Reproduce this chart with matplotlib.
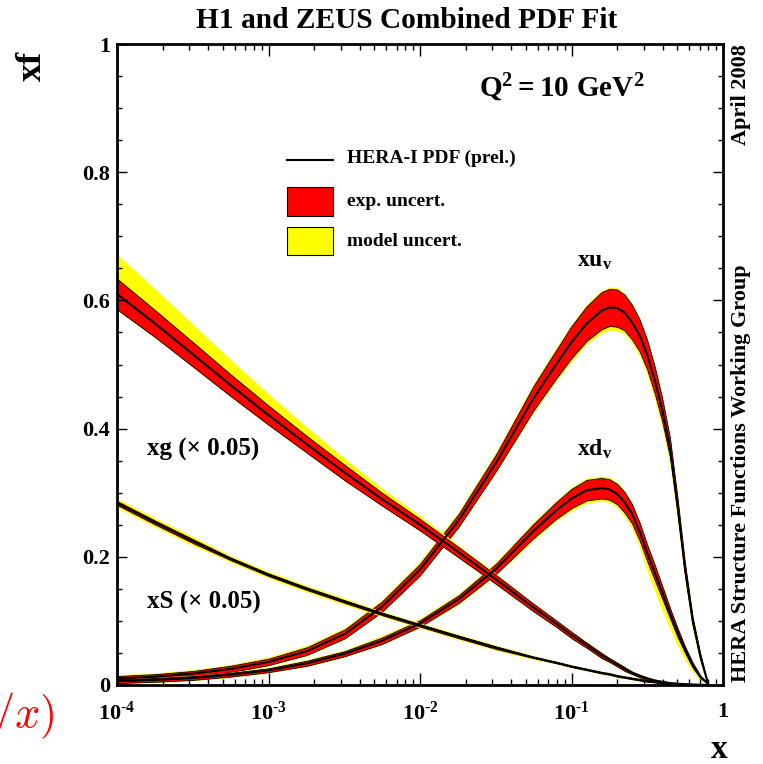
import matplotlib

matplotlib.use("Agg")
import matplotlib.pyplot as plt
import numpy as np
from matplotlib.patches import Rectangle
from matplotlib.ticker import LogLocator, MultipleLocator, NullFormatter

W, H = 763, 764

# x grid shared by all curves
X = [1.0e-4, 1.8e-4, 3.2e-4, 5.6e-4, 1.0e-3, 1.8e-3, 3.2e-3, 5.6e-3, 0.010, 0.018,
     0.032, 0.056, 0.079, 0.100, 0.126, 0.158, 0.178, 0.200, 0.224, 0.251,
     0.282, 0.316, 0.355, 0.398, 0.447, 0.501, 0.562, 0.631, 0.708, 0.794]

# gluon (x 0.05)
XG_C = [0.610, 0.563, 0.515, 0.468, 0.421, 0.375, 0.331, 0.290, 0.250, 0.207,
        0.164, 0.121, 0.096, 0.078, 0.062, 0.046, 0.039, 0.032, 0.025, 0.019,
        0.014, 0.010, 0.007, 0.005, 0.003, 0.002, 0.0012, 0.0006, 0.0002, 0.0]
XG_EXP = [0.024, 0.021, 0.019, 0.017, 0.015, 0.013, 0.012, 0.010, 0.009, 0.008,
          0.007, 0.006, 0.005, 0.005, 0.004, 0.004, 0.003, 0.003, 0.003, 0.002,
          0.002, 0.002, 0.001, 0.001, 0.001, 0.001, 0.0005, 0.0005, 0.0, 0.0]
XG_MOD_UP = [0.038, 0.033, 0.028, 0.023, 0.018, 0.014, 0.010, 0.007, 0.005, 0.003,
             0.002, 0.001, 0.001, 0.001, 0.001, 0.001, 0.001, 0.001, 0.001, 0.001,
             0.001, 0.001, 0.001, 0.0005, 0.0005, 0.0005, 0.0, 0.0, 0.0, 0.0]
XG_MOD_DN = [0.001, 0.001, 0.001, 0.001, 0.001, 0.001, 0.001, 0.001, 0.001, 0.001,
             0.001, 0.001, 0.001, 0.001, 0.001, 0.001, 0.001, 0.001, 0.001, 0.001,
             0.001, 0.001, 0.001, 0.0005, 0.0005, 0.0005, 0.0, 0.0, 0.0, 0.0]

# sea (x 0.05)
XS_C = [0.284, 0.253, 0.224, 0.197, 0.172, 0.150, 0.130, 0.111, 0.093, 0.075,
        0.058, 0.043, 0.035, 0.029, 0.024, 0.019, 0.017, 0.014, 0.012, 0.010,
        0.008, 0.006, 0.0045, 0.003, 0.002, 0.0013, 0.0007, 0.0003, 0.0001, 0.0]
XS_EXP = [0.003, 0.003, 0.003, 0.002, 0.002, 0.002, 0.002, 0.002, 0.002, 0.002,
          0.002, 0.001, 0.001, 0.001, 0.001, 0.001, 0.001, 0.001, 0.001, 0.001,
          0.001, 0.001, 0.0005, 0.0005, 0.0005, 0.0005, 0.0, 0.0, 0.0, 0.0]
XS_MOD = [0.004, 0.004, 0.004, 0.003, 0.003, 0.003, 0.003, 0.002, 0.002, 0.002,
          0.002, 0.002, 0.001, 0.001, 0.001, 0.001, 0.001, 0.001, 0.001, 0.001,
          0.001, 0.001, 0.0005, 0.0005, 0.0005, 0.0005, 0.0, 0.0, 0.0, 0.0]

# u valence
XUV_C = [0.010, 0.013, 0.018, 0.025, 0.036, 0.053, 0.080, 0.122, 0.180, 0.257,
         0.348, 0.447, 0.500, 0.535, 0.564, 0.584, 0.589, 0.588, 0.581, 0.566,
         0.545, 0.515, 0.475, 0.428, 0.370, 0.280, 0.180, 0.100, 0.045, 0.003]
XUV_EXP = [0.004, 0.004, 0.004, 0.005, 0.005, 0.006, 0.007, 0.008, 0.009, 0.010,
           0.013, 0.019, 0.022, 0.025, 0.027, 0.029, 0.029, 0.029, 0.028, 0.027,
           0.025, 0.023, 0.021, 0.018, 0.015, 0.012, 0.009, 0.006, 0.004, 0.0]
XUV_MOD_UP = [0.002, 0.002, 0.002, 0.002, 0.003, 0.003, 0.003, 0.003, 0.004, 0.004,
              0.004, 0.004, 0.004, 0.003, 0.003, 0.003, 0.003, 0.003, 0.003, 0.002,
              0.002, 0.002, 0.002, 0.002, 0.001, 0.001, 0.001, 0.001, 0.0, 0.0]
XUV_MOD_DN = [0.001, 0.001, 0.001, 0.001, 0.001, 0.001, 0.001, 0.001, 0.001, 0.002,
              0.002, 0.003, 0.004, 0.005, 0.005, 0.006, 0.006, 0.006, 0.006, 0.006,
              0.007, 0.008, 0.009, 0.010, 0.012, 0.012, 0.010, 0.008, 0.005, 0.0]

# d valence
XDV_C = [0.006, 0.008, 0.011, 0.016, 0.023, 0.034, 0.049, 0.069, 0.096, 0.134,
         0.182, 0.240, 0.272, 0.291, 0.304, 0.307, 0.305, 0.298, 0.285, 0.267,
         0.239, 0.206, 0.175, 0.144, 0.112, 0.082, 0.055, 0.031, 0.013, 0.002]
XDV_EXP = [0.003, 0.003, 0.003, 0.003, 0.003, 0.004, 0.004, 0.005, 0.005, 0.006,
           0.008, 0.011, 0.013, 0.015, 0.016, 0.016, 0.016, 0.016, 0.016, 0.015,
           0.014, 0.013, 0.012, 0.010, 0.008, 0.007, 0.005, 0.004, 0.002, 0.0]
XDV_MOD_UP = [0.001, 0.001, 0.001, 0.001, 0.002, 0.002, 0.002, 0.003, 0.003, 0.003,
              0.003, 0.003, 0.003, 0.003, 0.003, 0.003, 0.003, 0.002, 0.002, 0.002,
              0.002, 0.002, 0.001, 0.001, 0.001, 0.001, 0.001, 0.0, 0.0, 0.0]
XDV_MOD_DN = [0.001, 0.001, 0.001, 0.001, 0.001, 0.001, 0.001, 0.001, 0.001, 0.002,
              0.002, 0.003, 0.003, 0.004, 0.004, 0.004, 0.004, 0.005, 0.006, 0.008,
              0.011, 0.015, 0.017, 0.018, 0.016, 0.014, 0.010, 0.007, 0.004, 0.0]

X_TICKS = [1e-4, 1e-3, 1e-2, 1e-1, 1.0]
X_TICK_LABELS = [r"$10^{\text{-}4}$", r"$10^{\text{-}3}$", r"$10^{\text{-}2}$",
                 r"$10^{\text{-}1}$", "1"]
Y_TICKS = [0.0, 0.2, 0.4, 0.6, 0.8, 1.0]
Y_TICK_LABELS = ["0", "0.2", "0.4", "0.6", "0.8", "1"]
LEGEND_LABELS = ["HERA-I PDF (prel.)", "exp. uncert.", "model uncert."]

RED = "#ff0000"
YELLOW = "#ffff00"


def fig_xy(px, py):
    return px / W, 1 - py / H


def ax_xy(px, py):
    # pixel position -> axes fraction (axes spans 117..723 x 44..685)
    return (px - 117) / 606, (685 - py) / 641


def draw_pdf(ax, center, exp, mod_up, mod_dn):
    x = np.array(X)
    c = np.array(center)
    e = np.array(exp)
    lo_red = np.maximum(c - e, 0)
    hi_red = c + e
    lo_y = np.maximum(lo_red - np.array(mod_dn), 0)
    hi_y = hi_red + np.array(mod_up)
    ax.fill_between(x, lo_y, hi_y, color=YELLOW, lw=0)
    ax.fill_between(x, lo_red, hi_red, facecolor=RED, edgecolor="black", lw=0.6)
    ax.plot(x, c, color="black", lw=1.5)


def draw_legend(ax):
    x0, y0 = ax_xy(287, 160)
    x1, _ = ax_xy(333, 160)
    ax.plot([x0, x1], [y0, y0], color="black", lw=1.5, transform=ax.transAxes)
    for top, bottom, color in [(187, 216, RED), (227, 255, YELLOW)]:
        bx, by = ax_xy(287, bottom)
        _, ty = ax_xy(287, top)
        ax.add_patch(Rectangle((bx, by), x1 - bx, ty - by, transform=ax.transAxes,
                               facecolor=color, edgecolor="black", lw=0.8))
    for label, py in zip(LEGEND_LABELS, [158, 201, 241]):
        tx, ty = ax_xy(347, py)
        ax.text(tx, ty, label, transform=ax.transAxes, fontsize=14,
                ha="left", va="center")


def main():
    plt.rcParams["font.family"] = ["Liberation Serif", "DejaVu Serif"]
    plt.rcParams["font.weight"] = "bold"
    plt.rcParams["mathtext.fontset"] = "custom"
    plt.rcParams["mathtext.rm"] = "Liberation Serif:bold"
    plt.rcParams["mathtext.bf"] = "Liberation Serif:bold"
    plt.rcParams["mathtext.it"] = "Liberation Serif:bold"
    plt.rcParams["mathtext.default"] = "rm"

    fig = plt.figure(figsize=(W / 100, H / 100), dpi=100)
    ax = fig.add_axes([117 / W, 1 - 685 / H, 606 / W, 641 / H])

    draw_pdf(ax, XUV_C, XUV_EXP, XUV_MOD_UP, XUV_MOD_DN)
    draw_pdf(ax, XDV_C, XDV_EXP, XDV_MOD_UP, XDV_MOD_DN)
    draw_pdf(ax, XG_C, XG_EXP, XG_MOD_UP, XG_MOD_DN)
    draw_pdf(ax, XS_C, XS_EXP, XS_MOD, XS_MOD)

    ax.set_xscale("log")
    ax.set_xlim(1e-4, 1)
    ax.set_ylim(0, 1)
    ax.set_xticks(X_TICKS, labels=X_TICK_LABELS)
    ax.xaxis.set_minor_locator(LogLocator(base=10, subs=range(2, 10)))
    ax.xaxis.set_minor_formatter(NullFormatter())
    ax.set_yticks(Y_TICKS, labels=Y_TICK_LABELS)
    ax.yaxis.set_minor_locator(MultipleLocator(0.05))
    for side in ax.spines.values():
        side.set_linewidth(2.0)
    ax.tick_params(which="both", direction="in", top=True, right=True, width=1.0)
    ax.tick_params(axis="x", which="major", length=8.5, pad=12, labelsize=16)
    ax.tick_params(axis="x", which="minor", length=4.0)
    ax.tick_params(axis="y", which="major", length=7.0, pad=5, labelsize=16)
    ax.tick_params(axis="y", which="minor", length=3.5)

    ax.text(0.1087, 0.66, r"$xu_v$", fontsize=17, va="center", ha="left")
    ax.text(0.1087, 0.367, r"$xd_v$", fontsize=17, va="center", ha="left")
    ax.text(1.58e-4, 0.367, "xg (\u00d7 0.05)", fontsize=18, va="center", ha="left")
    ax.text(1.58e-4, 0.128, "xS (\u00d7 0.05)", fontsize=18, va="center", ha="left")
    ax.text(*ax_xy(479, 88), r"$Q^2 = 10\ GeV^2$", transform=ax.transAxes,
            fontsize=21, va="center", ha="left")
    draw_legend(ax)

    fig.text(*fig_xy(407, 20), "H1 and ZEUS Combined PDF Fit", fontsize=21.2,
             ha="center", va="center")
    fig.text(*fig_xy(32, 66), "xf", fontsize=26, rotation=90, ha="center", va="center")
    fig.text(*fig_xy(719, 750), "x", fontsize=24, ha="center", va="center")
    fig.text(*fig_xy(741, 95), "April 2008", fontsize=16, rotation=90,
             ha="center", va="center")
    fig.text(*fig_xy(741, 473), "HERA Structure Functions Working Group", fontsize=16,
             rotation=90, ha="center", va="center")
    fig.text(*fig_xy(-8, 716), r"$/\mathit{x})$", fontsize=32, color="red", ha="left",
             va="center", math_fontfamily="cm")

    fig.savefig("out.png", dpi=100, facecolor="white")
    plt.close(fig)


if __name__ == "__main__":
    main()
